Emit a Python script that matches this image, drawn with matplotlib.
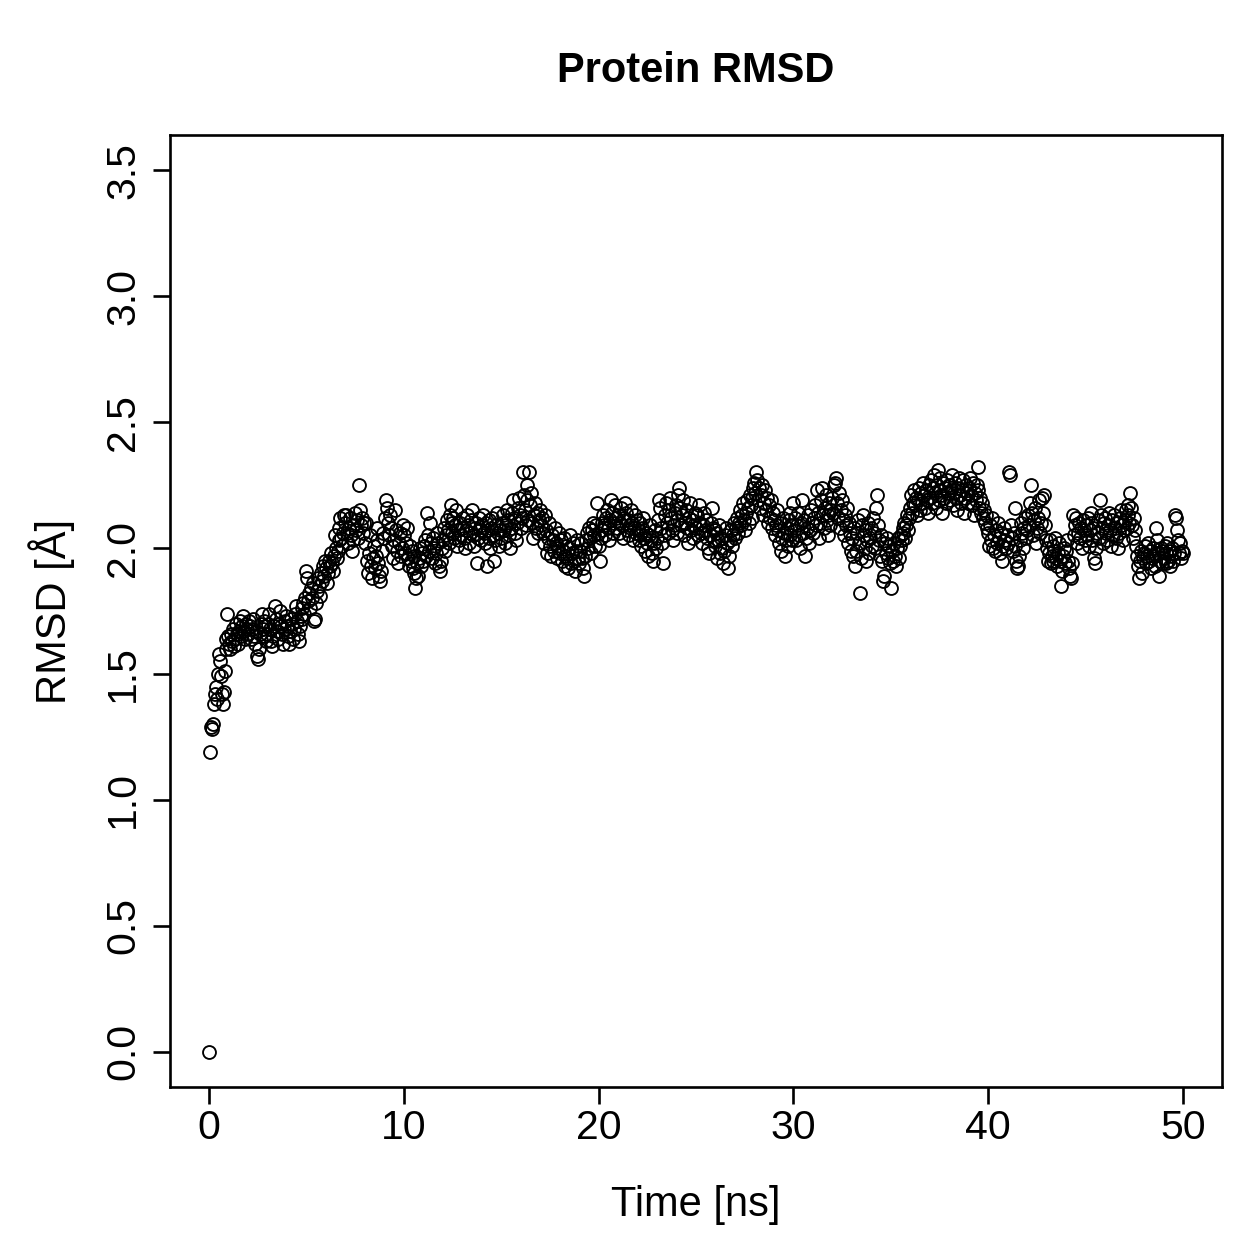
import numpy as np
import matplotlib
matplotlib.use("Agg")
import matplotlib.pyplot as plt

plt.rcParams['font.family'] = ['Liberation Sans', 'DejaVu Sans']

title = "Protein RMSD"
xlabel = "Time [ns]"
ylabel = "RMSD [Å]"
time_step_ns = 0.05
xticks = [0, 10, 20, 30, 40, 50]
yticks = [0.0, 0.5, 1.0, 1.5, 2.0, 2.5, 3.0, 3.5]
ytick_labels = ["0.0", "0.5", "1.0", "1.5", "2.0", "2.5", "3.0", "3.5"]

rmsd = [
    0.00, 1.19, 1.29, 1.28, 1.30, 1.38, 1.42, 1.45, 1.40, 1.50, 1.58, 1.55, 1.49, 1.42, 1.38, 1.43, 1.51, 1.60, 1.64, 1.74,
    1.65, 1.62, 1.60, 1.66, 1.63, 1.68, 1.61, 1.64, 1.70, 1.66, 1.62, 1.67, 1.71, 1.65, 1.69, 1.73, 1.67, 1.64, 1.70, 1.68,
    1.66, 1.71, 1.69, 1.64, 1.68, 1.72, 1.65, 1.62, 1.67, 1.57, 1.56, 1.60, 1.66, 1.70, 1.74, 1.68, 1.65, 1.71, 1.69, 1.63,
    1.66, 1.70, 1.74, 1.68, 1.63, 1.61, 1.65, 1.69, 1.77, 1.72, 1.67, 1.64, 1.70, 1.75, 1.69, 1.66, 1.62, 1.68, 1.71, 1.73,
    1.69, 1.65, 1.62, 1.67, 1.72, 1.70, 1.64, 1.68, 1.74, 1.77, 1.71, 1.66, 1.63, 1.69, 1.73, 1.76, 1.72, 1.78, 1.74, 1.80,
    1.91, 1.88, 1.79, 1.82, 1.76, 1.84, 1.80, 1.86, 1.71, 1.72, 1.78, 1.83, 1.88, 1.85, 1.81, 1.90, 1.87, 1.93, 1.89, 1.95,
    1.92, 1.86, 1.90, 1.95, 1.93, 1.98, 1.94, 1.91, 1.97, 2.05, 2.00, 1.96, 1.99, 2.03, 2.08, 2.12, 2.04, 2.01, 2.06, 2.13,
    2.10, 2.13, 2.06, 2.02, 2.08, 2.12, 2.05, 1.99, 2.03, 2.09, 2.14, 2.07, 2.11, 2.04, 2.25, 2.15, 2.09, 2.12, 2.06, 2.10,
    2.02, 2.10, 1.95, 1.90, 1.98, 2.05, 1.93, 1.88, 1.96, 2.01, 1.92, 1.97, 2.03, 2.08, 1.94, 1.89, 1.87, 1.91, 1.99, 2.06,
    2.04, 2.12, 2.19, 2.16, 2.10, 2.05, 2.13, 2.08, 2.01, 1.96, 2.03, 2.15, 2.07, 1.99, 1.94, 2.02, 2.06, 1.97, 2.00, 2.09,
    2.05, 1.98, 2.02, 2.08, 1.96, 1.93, 2.01, 1.95, 1.99, 1.92, 1.97, 1.90, 1.84, 1.88, 1.94, 1.89, 1.96, 2.00, 1.93, 1.98,
    1.95, 2.01, 2.03, 1.97, 2.14, 2.05, 1.99, 2.10, 2.02, 1.96, 2.04, 2.00, 1.94, 1.98, 2.06, 2.02, 1.93, 1.91, 1.95, 2.00,
    2.03, 2.08, 1.99, 2.05, 2.11, 2.07, 2.02, 2.13, 2.17, 2.10, 2.06, 2.12, 2.04, 2.09, 2.15, 2.01, 2.07, 2.03, 2.10, 2.05,
    2.08, 2.12, 2.04, 2.00, 2.07, 2.13, 2.09, 2.02, 2.06, 2.11, 2.15, 2.05, 2.01, 2.08, 2.10, 1.94, 2.04, 2.12, 2.07, 2.03,
    2.09, 2.13, 2.06, 2.02, 2.10, 1.93, 2.07, 2.11, 2.04, 2.00, 2.08, 2.12, 2.05, 1.95, 2.03, 2.09, 2.14, 2.06, 2.01, 2.07,
    2.04, 2.10, 2.13, 2.07, 2.02, 2.09, 2.15, 2.11, 2.05, 2.00, 2.08, 2.14, 2.19, 2.12, 2.06, 2.03, 2.10, 2.16, 2.20, 2.13,
    2.08, 2.12, 2.30, 2.21, 2.15, 2.09, 2.19, 2.25, 2.11, 2.30, 2.17, 2.22, 2.10, 2.04, 2.13, 2.18, 2.08, 2.14, 2.06, 2.11,
    2.15, 2.09, 2.12, 2.06, 2.02, 2.13, 2.07, 1.98, 2.04, 2.10, 2.01, 1.97, 2.05, 2.03, 1.99, 2.08, 2.02, 1.96, 2.00, 2.06,
    1.98, 2.03, 1.95, 1.99, 2.04, 1.93, 1.97, 2.01, 1.96, 1.92, 2.00, 2.05, 1.94, 1.98, 2.02, 1.95, 1.91, 1.99, 2.03, 1.96,
    1.94, 1.99, 2.02, 1.96, 1.92, 1.89, 1.97, 2.03, 2.06, 2.00, 2.08, 2.04, 1.98, 2.07, 2.10, 2.05, 2.01, 2.09, 2.18, 2.06,
    2.01, 1.95, 2.04, 2.10, 2.07, 2.13, 2.09, 2.05, 2.12, 2.15, 2.08, 2.03, 2.11, 2.19, 2.14, 2.06, 2.10, 2.17, 2.12, 2.08,
    2.13, 2.06, 2.10, 2.16, 2.09, 2.04, 2.12, 2.18, 2.14, 2.07, 2.11, 2.05, 2.09, 2.15, 2.10, 2.03, 2.08, 2.13, 2.06, 2.11,
    2.07, 2.03, 2.10, 2.05, 2.01, 2.08, 2.12, 2.04, 1.99, 2.06, 2.02, 1.97, 2.05, 2.09, 2.03, 1.98, 1.95, 2.02, 2.07, 2.00,
    2.04, 2.11, 2.19, 2.16, 2.08, 2.02, 1.94, 2.05, 2.13, 2.18, 2.10, 2.06, 2.15, 2.20, 2.12, 2.07, 2.03, 2.09, 2.14, 2.17,
    2.11, 2.06, 2.21, 2.24, 2.16, 2.09, 2.13, 2.19, 2.05, 2.10, 2.15, 2.08, 2.02, 2.12, 2.18, 2.07, 2.11, 2.04, 2.09, 2.14,
    2.08, 2.13, 2.05, 2.17, 2.10, 2.06, 2.02, 2.09, 2.14, 2.07, 2.11, 2.04, 2.00, 1.98, 2.05, 2.10, 2.16, 2.08, 2.03, 2.07,
    2.01, 2.06, 1.96, 2.03, 2.09, 1.98, 2.04, 2.00, 1.94, 1.99, 2.05, 2.08, 2.02, 1.92, 1.97, 2.03, 2.07, 2.01, 2.05, 2.10,
    2.04, 2.08, 2.12, 2.06, 2.10, 2.15, 2.09, 2.13, 2.18, 2.11, 2.07, 2.14, 2.19, 2.16, 2.10, 2.21, 2.17, 2.12, 2.20, 2.24,
    2.26, 2.22, 2.30, 2.27, 2.19, 2.24, 2.16, 2.21, 2.25, 2.13, 2.18, 2.23, 2.15, 2.20, 2.10, 2.17, 2.12, 2.19, 2.08, 2.14,
    2.11, 2.05, 2.09, 2.15, 2.07, 2.02, 2.10, 1.99, 2.04, 2.12, 2.06, 1.97, 2.03, 2.08, 2.01, 2.11, 2.05, 2.14, 2.09, 2.03,
    2.18, 2.07, 2.12, 2.03, 2.09, 2.14, 2.05, 2.00, 2.10, 2.19, 2.06, 2.11, 1.97, 2.04, 2.08, 2.13, 2.02, 2.07, 2.15, 2.10,
    2.06, 2.12, 2.17, 2.09, 2.23, 2.14, 2.04, 2.10, 2.19, 2.24, 2.13, 2.08, 2.16, 2.21, 2.11, 2.05, 2.13, 2.18, 2.09, 2.15,
    2.20, 2.14, 2.25, 2.26, 2.28, 2.18, 2.12, 2.22, 2.08, 2.15, 2.19, 2.11, 2.05, 2.13, 2.09, 2.16, 2.02, 2.10, 2.06, 1.99,
    2.04, 1.97, 2.08, 1.93, 1.99, 2.06, 2.11, 2.02, 1.82, 1.96, 2.09, 2.13, 2.05, 2.00, 2.07, 1.95, 2.03, 2.10, 1.98, 2.04,
    2.08, 2.01, 2.12, 2.06, 2.00, 2.16, 2.21, 2.09, 2.03, 1.97, 2.05, 1.95, 1.87, 1.89, 2.02, 1.98, 2.04, 1.96, 2.01, 1.94,
    1.84, 1.99, 1.95, 2.02, 1.97, 1.93, 2.00, 2.04, 1.96, 2.01, 2.05, 2.03, 2.08, 2.06, 2.10, 2.04, 2.09, 2.13, 2.07, 2.12,
    2.16, 2.21, 2.14, 2.18, 2.23, 2.17, 2.20, 2.13, 2.19, 2.24, 2.15, 2.22, 2.18, 2.26, 2.21, 2.16, 2.23, 2.19, 2.14, 2.25,
    2.20, 2.27, 2.18, 2.24, 2.29, 2.22, 2.16, 2.25, 2.31, 2.19, 2.23, 2.28, 2.21, 2.14, 2.26, 2.20, 2.24, 2.18, 2.27, 2.22,
    2.25, 2.19, 2.23, 2.29, 2.17, 2.22, 2.26, 2.20, 2.15, 2.24, 2.28, 2.21, 2.18, 2.23, 2.27, 2.14, 2.20, 2.25, 2.22, 2.18,
    2.24, 2.28, 2.21, 2.17, 2.26, 2.13, 2.22, 2.19, 2.25, 2.32, 2.23, 2.16, 2.20, 2.14, 2.18, 2.12, 2.15, 2.10, 2.13, 2.08,
    2.06, 2.01, 2.09, 2.03, 2.12, 2.00, 2.05, 1.99, 2.07, 2.02, 2.10, 2.04, 1.98, 2.06, 1.95, 2.01, 2.08, 2.03, 2.00, 2.05,
    2.02, 2.30, 2.29, 2.09, 2.04, 1.99, 2.06, 2.16, 2.01, 1.95, 1.92, 1.93, 1.97, 2.03, 2.10, 2.06, 2.00, 2.08, 2.12, 2.04,
    2.07, 2.13, 2.09, 2.18, 2.25, 2.14, 2.05, 2.11, 2.16, 2.02, 2.08, 2.12, 2.19, 2.06, 2.10, 2.20, 2.14, 2.21, 2.09, 2.03,
    2.00, 1.95, 1.98, 2.03, 1.94, 1.97, 2.01, 1.95, 1.99, 2.04, 1.96, 1.93, 1.98, 2.02, 1.95, 1.85, 1.91, 1.97, 2.00, 1.94,
    1.99, 2.03, 1.95, 1.92, 1.89, 1.88, 1.94, 2.13, 2.05, 2.09, 2.12, 2.02, 2.06, 2.10, 2.04, 2.08, 2.00, 2.11, 2.07, 2.03,
    2.09, 2.05, 2.12, 2.01, 2.07, 2.14, 2.10, 2.03, 2.08, 1.96, 1.94, 2.00, 2.06, 2.11, 2.04, 2.19, 2.13, 2.08, 2.02, 2.10,
    2.12, 2.06, 2.03, 2.09, 2.14, 2.07, 2.01, 2.11, 2.05, 2.13, 2.08, 2.04, 2.10, 2.00, 2.06, 2.12, 2.15, 2.09, 2.03, 2.07,
    2.11, 2.15, 2.08, 2.13, 2.17, 2.10, 2.22, 2.16, 2.09, 2.04, 2.12, 2.07, 2.01, 1.97, 1.93, 1.88, 1.95, 1.99, 1.90, 1.96,
    1.98, 2.01, 1.94, 1.97, 2.02, 1.95, 1.99, 1.92, 1.96, 2.00, 1.97, 1.93, 2.08, 2.03, 1.98, 1.89, 1.95, 2.00, 1.94, 1.99,
    1.96, 2.01, 1.94, 1.98, 2.02, 1.95, 1.99, 1.93, 1.97, 2.00, 1.95, 1.98, 2.13, 2.12, 2.07, 2.03, 1.98, 2.02, 1.96, 1.99,
    1.98,
]

time_ns = np.arange(len(rmsd)) * time_step_ns

W = H = 1259
fig = plt.figure(figsize=(12.59, 12.59), dpi=100)
ax = fig.add_axes([170 / W, 1 - 1087 / H, (1222 - 170) / W, (1087 - 135) / H])

ax.plot(time_ns, rmsd, linestyle='none', marker='o', markersize=9.3,
        markerfacecolor='none', markeredgecolor='black', markeredgewidth=1.35)

ax.set_xlim(-2, 52)
ax.set_ylim(-0.14, 3.64)
ax.set_xticks(xticks)
ax.set_yticks(yticks)
ax.set_yticklabels(ytick_labels, rotation=90, va='center')
ax.tick_params(axis='both', direction='out', length=12, width=1.9,
               labelsize=29.5, colors='black')
ax.tick_params(axis='x', pad=3.5)
ax.tick_params(axis='y', pad=8)
for s in ax.spines.values():
    s.set_linewidth(1.9)
    s.set_color('black')

fig.text((170 + 1222) / 2 / W, 1 - 82 / H, title, ha='center', va='baseline',
         fontsize=30, fontweight='bold')
fig.text((170 + 1222) / 2 / W, 1 - 1216 / H, xlabel, ha='center', va='baseline', fontsize=30)
fig.text(52 / W, 1 - 611 / H, ylabel, ha='center', va='center', rotation=90, fontsize=30)

fig.savefig("out.png", dpi=100)
